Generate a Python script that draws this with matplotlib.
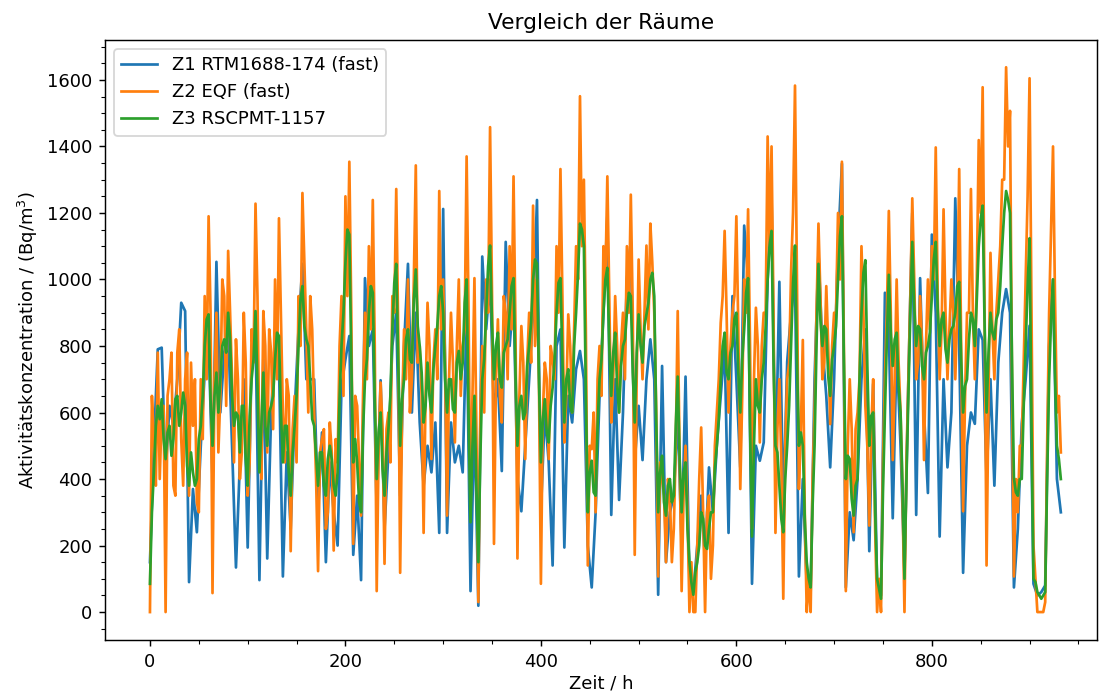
import matplotlib
matplotlib.use("Agg")
import matplotlib.pyplot as plt
from matplotlib.ticker import MultipleLocator
import numpy as np

# Zeit in Stunden: Hauptwerte alle 4 h, Zwischenwerte jeweils 2 h versetzt
zeit = np.arange(0, 936, 4)
zeit_fein = np.arange(0, 933, 2)

# Z1 RTM1688-174 (fast)
z1 = [150, 500, 790, 795, 420, 620,
      560, 700, 930, 905, 90, 370,
      240, 500, 720, 820, 400, 1053,
      600, 780, 850, 500, 134, 450,
      700, 194, 750, 850, 96, 760,
      161, 600, 800, 750, 107, 480,
      250, 600, 850, 1047, 700, 700,
      700, 300, 540, 150, 450, 300,
      200, 680, 760, 830, 172, 350,
      96, 1004, 800, 850, 300, 697,
      250, 480, 800, 900, 350, 800,
      1047, 600, 900, 570, 380, 500,
      420, 570, 238, 1212, 238, 570,
      450, 500, 420, 900, 63, 600,
      19, 1069, 850, 1000, 600, 700,
      424, 1113, 800, 950, 400, 303,
      500, 700, 900, 1239, 300, 600,
      450, 140, 800, 850, 194, 650,
      570, 730, 785, 700, 200, 74,
      300, 650, 900, 1190, 292, 700,
      337, 600, 1000, 1113, 450, 620,
      457, 700, 820, 700, 52, 740,
      150, 300, 350, 600, 200, 708,
      100, 60, 200, 350, 150, 435,
      300, 500, 650, 800, 238, 950,
      700, 435, 1162, 1000, 85, 500,
      455, 510, 1000, 1250, 400, 993,
      300, 752, 900, 1000, 107, 400,
      80, 60, 700, 1080, 800, 650,
      435, 700, 1100, 1348, 74, 300,
      216, 400, 700, 850, 183, 686,
      80, 50, 960, 850, 282, 790,
      500, 120, 700, 1200, 292, 1004,
      600, 358, 1135, 900, 227, 700,
      435, 600, 1244, 800, 118, 500,
      600, 566, 850, 818, 400, 700,
      380, 750, 900, 971, 900, 74,
      250, 566, 700, 861, 85, 50,
      60, 80, 800, 1000, 400, 300]

# Z2 EQF (fast)
z2 = [0, 520, 780, 600, 0, 700,
      380, 780, 520, 700, 350, 560,
      330, 700, 950, 1190, 57, 900,
      650, 950, 1086, 700, 820, 400,
      900, 350, 850, 1228, 500, 905,
      480, 780, 1000, 1184, 600, 700,
      183, 650, 950, 1260, 840, 950,
      600, 123, 520, 250, 570, 185,
      450, 950, 1250, 1354, 205, 620,
      290, 900, 1100, 1239, 63, 690,
      145, 600, 950, 1272, 118, 850,
      1000, 700, 1343, 800, 238, 930,
      460, 850, 1266, 1000, 290, 900,
      510, 1000, 800, 1370, 300, 1004,
      30, 800, 1000, 1458, 205, 880,
      570, 900, 1100, 1310, 161, 860,
      460, 900, 1222, 1000, 85, 750,
      460, 760, 1100, 1332, 510, 895,
      600, 1100, 1551, 1300, 140, 490,
      300, 800, 1100, 1310, 570, 950,
      600, 900, 1100, 1255, 172, 1060,
      700, 1102, 1168, 900, 107, 400,
      150, 350, 250, 905, 63, 500,
      0, 0, 200, 555, 0, 350,
      200, 600, 870, 1146, 600, 900,
      1190, 370, 1000, 1211, 250, 915,
      510, 900, 1430, 1400, 238, 700,
      40, 700, 1025, 1583, 370, 818,
      0, 0, 600, 1168, 700, 980,
      565, 900, 1200, 1354, 63, 700,
      240, 600, 1100, 620, 260, 700,
      0, 0, 700, 1206, 457, 1000,
      600, 0, 700, 1244, 700, 950,
      457, 1000, 1100, 1397, 700, 1211,
      700, 1000, 700, 1332, 303, 900,
      1272, 700, 1419, 1578, 140, 1080,
      700, 1000, 1300, 1638, 1507, 107,
      300, 500, 1000, 1605, 200, 0,
      0, 30, 900, 1400, 600, 480]

z2_mitte = [650, 380, 400, 620, 650, 780,
            350, 850, 380, 780, 750, 700,
            300, 520, 700, 900, 700, 480,
            1000, 620, 900, 450, 700, 480,
            750, 450, 750, 950, 400, 800,
            850, 550, 700, 900, 450, 650,
            550, 450, 800, 1050, 600, 850,
            400, 480, 550, 300, 480, 520,
            800, 650, 950, 900, 650, 450,
            650, 700, 850, 800, 500, 550,
            550, 450, 900, 850, 600, 700,
            600, 1000, 750, 650, 650, 800,
            750, 700, 850, 750, 700, 750,
            800, 650, 850, 900, 650, 550,
            600, 600, 900, 950, 700, 650,
            950, 700, 850, 850, 650, 750,
            750, 750, 800, 700, 600, 700,
            800, 700, 900, 950, 650, 800,
            850, 1000, 1100, 850, 500, 600,
            700, 650, 1000, 950, 700, 800,
            800, 700, 900, 900, 700, 850,
            900, 850, 1050, 600, 450, 350,
            400, 150, 500, 450, 350, 300,
            150, 0, 400, 300, 300, 100,
            500, 700, 950, 900, 800, 950,
            850, 650, 900, 800, 700, 800,
            800, 900, 1100, 900, 550, 450,
            500, 750, 1200, 1000, 550, 300,
            100, 400, 900, 950, 750, 800,
            800, 900, 1000, 800, 500, 550,
            550, 700, 900, 500, 550, 250,
            100, 450, 900, 900, 700, 750,
            350, 450, 950, 1000, 750, 800,
            800, 850, 1000, 950, 850, 900,
            850, 900, 900, 800, 650, 900,
            900, 1000, 1200, 900, 650, 850,
            900, 1100, 1300, 1400, 700, 400,
            500, 750, 1250, 900, 100, 0,
            0, 500, 1150, 950, 650]

# Z3 RSCPMT-1157
z3 = [85, 420, 620, 640, 460, 560,
      520, 650, 600, 620, 380, 420,
      400, 560, 800, 895, 500, 720,
      700, 820, 900, 650, 600, 480,
      620, 380, 700, 905, 420, 720,
      500, 620, 760, 830, 450, 560,
      350, 560, 800, 980, 820, 700,
      560, 380, 480, 350, 500, 380,
      420, 800, 1050, 1135, 450, 450,
      300, 700, 900, 960, 400, 600,
      350, 550, 850, 1047, 500, 700,
      850, 750, 1030, 800, 570, 750,
      600, 800, 950, 900, 600, 700,
      600, 785, 750, 1000, 270, 650,
      150, 700, 900, 1102, 700, 840,
      675, 800, 900, 1004, 500, 650,
      600, 800, 1000, 1047, 450, 640,
      510, 675, 900, 1004, 570, 730,
      600, 900, 1168, 1100, 300, 455,
      350, 700, 900, 1035, 650, 840,
      600, 800, 900, 950, 570, 895,
      750, 895, 1000, 950, 300, 470,
      290, 400, 350, 708, 300, 450,
      150, 52, 150, 300, 200, 250,
      300, 500, 700, 840, 700, 800,
      900, 600, 850, 1004, 227, 700,
      600, 750, 1000, 1146, 500, 380,
      240, 500, 800, 1102, 500, 500,
      150, 74, 500, 1047, 800, 850,
      650, 800, 1000, 1190, 400, 460,
      290, 400, 900, 1058, 500, 600,
      100, 40, 600, 1014, 740, 840,
      600, 100, 650, 1113, 800, 850,
      700, 800, 950, 1113, 800, 900,
      750, 850, 900, 993, 600, 700,
      900, 800, 1100, 1222, 600, 900,
      820, 900, 1100, 1266, 1200, 402,
      350, 400, 800, 1124, 100, 60,
      40, 60, 700, 1000, 500, 400]

z3_mitte = [300, 560, 580, 520, 540, 470,
            640, 560, 660, 440, 480, 380,
            520, 650, 880, 640, 650, 600,
            800, 780, 820, 560, 590, 620,
            460, 590, 760, 680, 560, 560,
            600, 650, 840, 600, 560, 420,
            480, 650, 940, 860, 800, 580,
            470, 480, 380, 460, 460, 350,
            640, 900, 1150, 760, 520, 330,
            540, 760, 980, 640, 540, 430,
            480, 650, 990, 760, 640, 820,
            760, 940, 860, 720, 620, 650,
            730, 860, 980, 700, 700, 610,
            750, 700, 930, 590, 500, 380,
            460, 760, 1040, 870, 800, 700,
            780, 820, 980, 720, 620, 580,
            740, 870, 1060, 700, 580, 540,
            620, 760, 990, 760, 700, 620,
            800, 1020, 1150, 650, 420, 360,
            560, 760, 1000, 800, 780, 680,
            740, 820, 960, 720, 780, 800,
            860, 930, 1020, 580, 420, 330,
            380, 330, 560, 460, 420, 250,
            90, 120, 200, 280, 190, 300,
            430, 580, 800, 720, 780, 880,
            720, 760, 960, 560, 500, 620,
            700, 860, 1100, 760, 480, 280,
            400, 620, 990, 760, 540, 280,
            100, 320, 800, 880, 860, 710,
            760, 860, 1130, 760, 470, 340,
            380, 700, 1020, 740, 590, 300,
            70, 360, 820, 840, 820, 680,
            380, 400, 900, 920, 860, 740,
            780, 840, 1060, 910, 880, 790,
            820, 860, 980, 760, 680, 820,
            880, 940, 1180, 860, 780, 840,
            880, 980, 1200, 1240, 760, 360,
            400, 620, 980, 560, 90, 50,
            50, 400, 880, 720, 460]

z2_voll = np.empty(len(zeit_fein))
z2_voll[0::2] = z2
z2_voll[1::2] = z2_mitte
z3_voll = np.empty(len(zeit_fein))
z3_voll[0::2] = z3
z3_voll[1::2] = z3_mitte

# 130 dpi so the default font sizes match the reference
fig = plt.figure(figsize=(1100 / 130, 693 / 130), dpi=130)
ax = fig.add_axes([105 / 1100, 1 - 640 / 693, (1097 - 105) / 1100, (640 - 40) / 693])

ax.plot(zeit, z1, color="#1f77b4", label="Z1 RTM1688-174 (fast)")
ax.plot(zeit_fein, z2_voll, color="#ff7f0e", label="Z2 EQF (fast)")
ax.plot(zeit_fein, z3_voll, color="#2ca02c", label="Z3 RSCPMT-1157")

ax.set_xlim(-46, 969)
ax.set_ylim(-84, 1720)
ax.yaxis.set_major_locator(MultipleLocator(200))
ax.xaxis.set_major_locator(MultipleLocator(200))
ax.minorticks_on()
ax.set_title("Vergleich der Räume")
ax.set_xlabel("Zeit / h", labelpad=2)
ax.set_ylabel("Aktivitätskonzentration / (Bq/m$^3$)")
ax.legend(loc="upper left")

fig.savefig("out.png", dpi=130)
